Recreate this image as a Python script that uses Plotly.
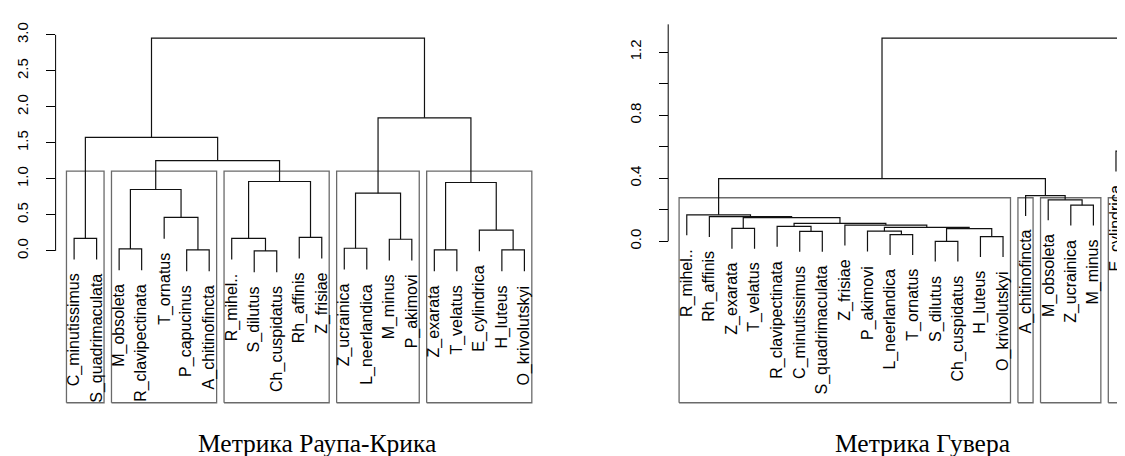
import plotly.graph_objects as go

W, H = 1125, 456

# ---------------- data: left dendrogram (Raup-Crick) ----------------
left_labels = ["C_minutissimus", "S_quadrimaculata", "M_obsoleta", "R_clavipectinata",
               "T_ornatus", "P_capucinus", "A_chitinofincta", "R_mihel..", "S_dilutus",
               "Ch_cuspidatus", "Rh_affinis", "Z_frisiae", "Z_ucrainica", "L_neerlandica",
               "M_minus", "P_akimovi", "Z_exarata", "T_velatus", "E_cylindrica",
               "H_luteus", "O_krivolutskyi"]
# hclust-style merge matrix: negative = leaf position, positive = earlier merge
left_merge_a = [-9, -6, -17, -20, -3, -13, -15, -1, -8, -11, -19, -5, 6, 5, 3, 9, 14, 8, 13, 18]
left_merge_b = [-10, -7, -18, -21, -4, -14, -16, -2, 1, -12, 4, 2, 7, 12, 11, 10, 16, 17, 15, 19]
left_heights = [0.0, 0.014, 0.014, 0.014, 0.028, 0.037, 0.162, 0.175, 0.175, 0.189,
                0.29, 0.466, 0.802, 0.853, 0.95, 0.964, 1.254, 1.576, 1.848, 2.955]
left_cluster_sizes = [2, 5, 5, 4, 5]
left_ticks = [0.0, 0.5, 1.0, 1.5, 2.0, 2.5, 3.0]
left_ticktext = ["0.0", "0.5", "1.0", "1.5", "2.0", "2.5", "3.0"]
left_title = "Метрика Раупа-Крика"

# ---------------- data: right dendrogram (Hoover) ----------------
right_labels = ["R_mihel..", "Rh_affinis", "Z_exarata", "T_velatus", "R_clavipectinata",
                "C_minutissimus", "S_quadrimaculata", "Z_frisiae", "P_akimovi",
                "L_neerlandica", "T_ornatus", "S_dilutus", "Ch_cuspidatus", "H_luteus",
                "O_krivolutskyi", "A_chitinofincta", "M_obsoleta", "Z_ucrainica",
                "M_minus", "E_cylindrica", "P_capucinus"]
right_merge_a = [-12, -14, -10, -6, -9, 1, -3, 5, -5, -8, 9, 7, -2, -1, -18, -17, -16, 14, -20, 18]
right_merge_b = [-13, -15, -11, -7, 3, 2, -4, 6, 4, 8, 10, 11, 12, 13, -19, 15, 16, 17, -21, 19]
right_heights = [0.0, 0.030, 0.042, 0.063, 0.064, 0.081, 0.082, 0.088, 0.095, 0.103,
                 0.114, 0.150, 0.157, 0.168, 0.229, 0.263, 0.290, 0.398, 0.572, 1.289]
right_cluster_sizes = [15, 1, 3, 1, 1]
right_ticks = [0.0, 0.2, 0.4, 0.6, 0.8, 1.0, 1.2]
right_ticktext = ["0.0", "", "0.4", "", "0.8", "", "1.2"]
right_title = "Метрика Гувера"

HANG = 0.1
K = 5

# ---------------- layout geometry (pixels) ----------------
L_X0, L_X1 = 48.1, 534.4
L_XR = [0.2, 21.8]
L_YR = [-2.129, 3.149]
R_X0, R_X1 = 660.7, 1125.0
R_XR = [0.2, 0.2 + (1125.0 - 660.7) / 22.59]
R_YR = [-1.034, 1.378]
Y_TOP, Y_BOT = 14.2, 396.0

LINE_COL = "#111111"
BOX_COL = "#6a6a6a"


def dendro_segments(ma, mb, hts):
    n = len(ma) + 1
    hang = HANG * (max(hts) - min(hts))
    mx, my = [], []
    xs, ys = [], []
    leaf_y = [0.0] * (n + 1)
    for a, b, h in zip(ma, mb, hts):
        pts = []
        for c in (a, b):
            if c < 0:
                cx, cy = -c, h - hang
                leaf_y[-c] = cy
            else:
                cx, cy = mx[c - 1], my[c - 1]
            pts.append((cx, cy))
        (xa, ya), (xb, yb) = pts
        xs += [xa, xa, xb, xb, None]
        ys += [ya, h, h, yb, None]
        mx.append((xa + xb) / 2)
        my.append(h)
    return xs, ys, leaf_y


def boxes(sizes, hts, ybot):
    srt = sorted(hts, reverse=True)
    cut = (srt[K - 2] + srt[K - 1]) / 2
    xs, ys = [], []
    start = 1
    for s in sizes:
        end = start + s - 1
        x0, x1 = start - 0.34, end + 0.33
        xs += [x0, x1, x1, x0, x0, None]
        ys += [ybot, ybot, cut, cut, ybot, None]
        start = end + 1
    return xs, ys


fig = go.Figure()


def px2paper_x(p):
    return p / W


def px2paper_y(p):
    return 1 - p / H


panels = [
    dict(labels=left_labels, ma=left_merge_a, mb=left_merge_b, h=left_heights,
         sizes=left_cluster_sizes, xr=L_XR, yr=L_YR, x0=L_X0, x1=L_X1,
         ticks=left_ticks, ticktext=left_ticktext, axtop=left_ticks[-1],
         title=left_title, title_x=309.5, xa="x", ya="y"),
    dict(labels=right_labels, ma=right_merge_a, mb=right_merge_b, h=right_heights,
         sizes=right_cluster_sizes, xr=R_XR, yr=R_YR, x0=R_X0, x1=R_X1,
         ticks=right_ticks, ticktext=right_ticktext, axtop=R_YR[1],
         title=right_title, title_x=914.0, xa="x2", ya="y2"),
]

annotations = []
shapes = []
for i, p in enumerate(panels):
    xs, ys, leaf_y = dendro_segments(p["ma"], p["mb"], p["h"])
    bx, by = boxes(p["sizes"], p["h"], p["yr"][0] + 0.004 * (p["yr"][1] - p["yr"][0]))
    fig.add_trace(go.Scatter(x=bx, y=by, mode="lines", xaxis=p["xa"], yaxis=p["ya"],
                             line=dict(color=BOX_COL, width=1.3), hoverinfo="skip",
                             showlegend=False))
    fig.add_trace(go.Scatter(x=xs, y=ys, mode="lines", xaxis=p["xa"], yaxis=p["ya"],
                             line=dict(color=LINE_COL, width=1.2), hoverinfo="skip",
                             showlegend=False))
    # leaf labels (paper x so that partly cut labels are still drawn)
    pxw = (p["x1"] - p["x0"]) / (p["xr"][1] - p["xr"][0])
    for j, lab in enumerate(p["labels"]):
        leaf = j + 1
        xp = p["x0"] + (leaf - p["xr"][0]) * pxw
        annotations.append(dict(
            x=px2paper_x(xp), xref="paper", y=leaf_y[leaf], yref=p["ya"],
            text=lab, textangle=-90, showarrow=False, xanchor="center", yanchor="top",
            yshift=-12, font=dict(family="Liberation Sans, Arial", size=16, color="#000")))
    annotations.append(dict(
        x=px2paper_x(p["title_x"]), xref="paper", y=px2paper_y(435), yref="paper",
        text=p["title"], showarrow=False, xanchor="center", yanchor="middle",
        borderpad=0,
        font=dict(family="Liberation Serif, Times New Roman", size=25.5, color="#000")))
    # axis line spanning the tick range (R style)
    shapes.append(dict(type="line", xref="paper", x0=px2paper_x(p["x0"] - 0.5),
                       x1=px2paper_x(p["x0"] - 0.5),
                       yref=p["ya"], y0=p["ticks"][0], y1=p["axtop"],
                       line=dict(color="#000", width=1)))

fig.update_layout(
    width=W, height=H, margin=dict(l=0, r=0, t=0, b=0),
    paper_bgcolor="white", plot_bgcolor="white",
    annotations=annotations, shapes=shapes,
    xaxis=dict(domain=[px2paper_x(L_X0), px2paper_x(L_X1)], range=L_XR, visible=False),
    xaxis2=dict(domain=[px2paper_x(R_X0), 1.0], range=R_XR, visible=False, anchor="y2"),
    yaxis=dict(domain=[px2paper_y(Y_BOT), px2paper_y(Y_TOP)], range=L_YR,
               tickvals=left_ticks, ticktext=left_ticktext, ticks="outside", ticklen=9,
               tickcolor="#000", tickangle=-90, showgrid=False, zeroline=False,
               showline=False, anchor="x", ticklabelstandoff=12,
               tickfont=dict(family="Liberation Sans, Arial", size=15, color="#000")),
    yaxis2=dict(domain=[px2paper_y(Y_BOT), px2paper_y(Y_TOP)], range=R_YR,
                tickvals=right_ticks, ticktext=right_ticktext, ticks="outside", ticklen=9,
                tickcolor="#000", tickangle=-90, showgrid=False, zeroline=False,
                showline=False, anchor="x2", ticklabelstandoff=12,
                tickfont=dict(family="Liberation Sans, Arial", size=15, color="#000")),
)

fig.write_html("out.html")
